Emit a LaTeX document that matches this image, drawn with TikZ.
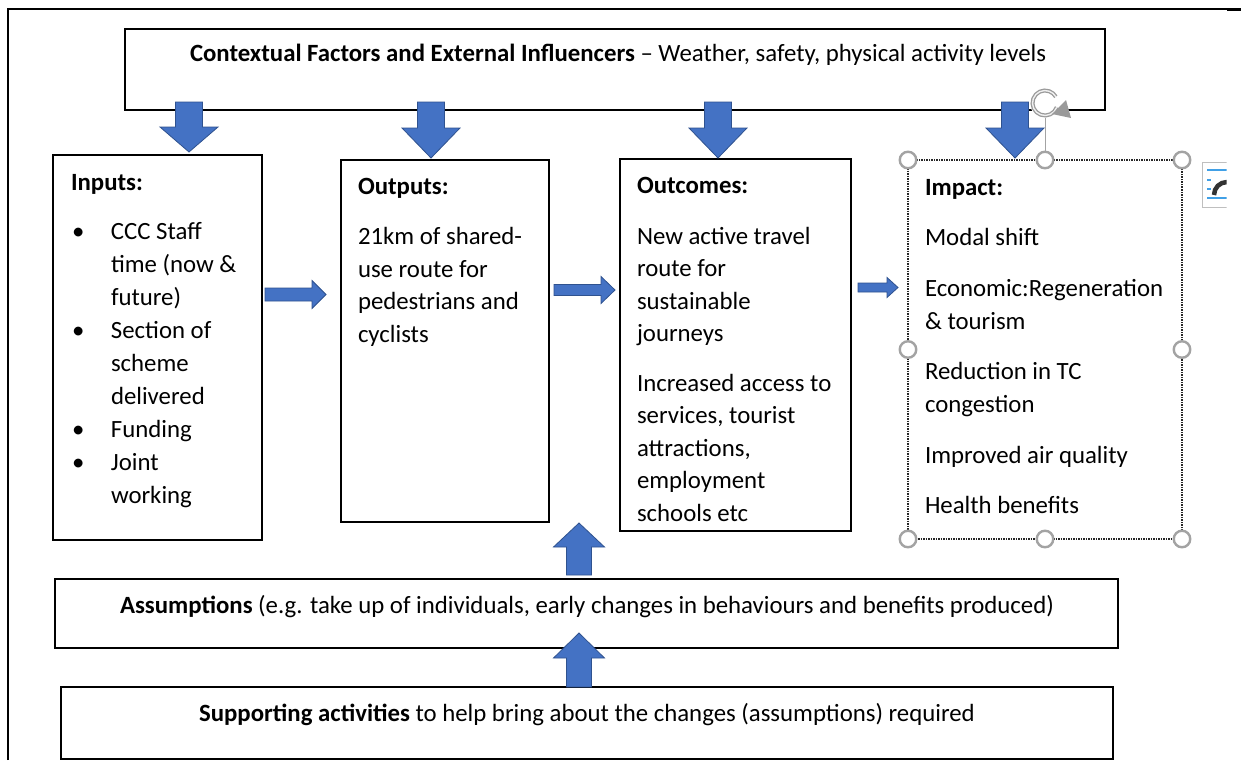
\documentclass[tikz,border=0pt]{standalone}
\usepackage{fontspec}
\setmainfont{Carlito}
\usetikzlibrary{arrows.meta}
\definecolor{arrfill}{HTML}{4472C4}
\definecolor{arrline}{HTML}{2F528F}
\definecolor{handlegray}{HTML}{A3A3A3}
\definecolor{rotgray}{HTML}{9A9A9A}
\definecolor{iconblue}{HTML}{41A0E6}
\newcommand\lmbul{\makebox[40pt][l]{\hspace{1pt}\textbullet}}
\newcommand\lmind{\hspace*{40pt}}
% vertical block arrow: y base, y head base, y tip, x centre, shaft half width, head half width
\newcommand\lmvarrow[6]{\filldraw[blockarrow] (#4-#5,#1) -- (#4-#5,#2) -- (#4-#6,#2) -- (#4,#3) -- (#4+#6,#2) -- (#4+#5,#2) -- (#4+#5,#1) -- cycle;}
% horizontal block arrow: x base, x head base, x tip, y centre, shaft half height, head half height
\newcommand\lmharrow[6]{\filldraw[blockarrow] (#1,#4-#5) -- (#2,#4-#5) -- (#2,#4-#6) -- (#3,#4) -- (#2,#4+#6) -- (#2,#4+#5) -- (#1,#4+#5) -- cycle;}
\begin{document}
\begin{tikzpicture}[x=1pt, y=-1pt,
  box/.style={draw=black, line width=1.5pt, inner sep=0pt, outer sep=0pt, anchor=north west},
  txt/.style={inner sep=0pt, outer sep=0pt, anchor=north west, align=left, font=\fontsize{24.8}{33}\selectfont},
  txtb/.style={txt, font=\fontsize{24.8}{32.5}\selectfont},
  ctxt/.style={inner sep=0pt, outer sep=0pt, anchor=base, font=\fontsize{24.8}{33}\selectfont},
  blockarrow/.style={fill=arrfill, draw=arrline, line width=0.8pt},
  handle/.style={circle, draw=handlegray, fill=white, line width=2.4pt, minimum size=16.5pt, inner sep=0pt}
]
\useasboundingbox (0,0) rectangle (1241,760);
\fill[white] (0,0) rectangle (1241,760);
% outer frame
\draw[line width=1.5pt] (8,760) -- (8,9) -- (1241,9);
\draw[line width=3pt] (1227,10) -- (1241,10);
% boxes
\node[box, minimum width=980pt, minimum height=81pt] (ctx) at (125,29) {};
\node[box, minimum width=209pt, minimum height=385pt] (inputs) at (53,155) {};
\node[box, minimum width=208pt, minimum height=362pt] (outputs) at (341,160) {};
\node[box, minimum width=231pt, minimum height=372pt] (outcomes) at (620,159) {};
\node[box, draw=black!85, densely dotted, line width=1.2pt, minimum width=274pt, minimum height=379pt] (impact) at (908,160) {};
\node[box, minimum width=1063pt, minimum height=69pt] (assump) at (55,579) {};
\node[box, minimum width=1052pt, minimum height=72pt] (support) at (61,687) {};
% texts
\node[ctxt] (ctxT) at (618,62) {\textbf{Contextual Factors and External Influencers} – Weather, safety, physical activity levels};
\node[txt] (inputsT) at (71,166.9) {\strut\textbf{Inputs:}\\[16pt]
\lmbul CCC Staff\\ \lmind time (now \&\\ \lmind future)\\ \lmbul Section of\\ \lmind scheme\\ \lmind delivered\\ \lmbul Funding\\ \lmbul Joint\\ \lmind working};
\node[txtb] (outputsT) at (358,171.4) {\strut\textbf{Outputs:}\\[18pt] 21km of shared-\\ use route for\\ pedestrians and\\ cyclists};
\node[txtb] (outcomesT) at (637,171.2) {\strut\textbf{Outcomes:}\\[18pt] New active travel\\ route for\\ sustainable\\ journeys\\[17pt] Increased access to\\ services, tourist\\ attractions,\\ employment\\ schools etc};
\node[txt] (impactT) at (925,171.9) {\strut\textbf{Impact:}\\[17pt] Modal shift\\[18pt] Economic:Regeneration\\ \& tourism\\[17pt] Reduction in TC\\ congestion\\[18pt] Improved air quality\\[17pt] Health benefits};
\node[ctxt] (assumpT) at (587,613) {\textbf{Assumptions} (e.g. take up of individuals, early changes in behaviours and benefits produced)};
\node[ctxt] (supportT) at (587,721) {\textbf{Supporting activities} to help bring about the changes (assumptions) required};
% block arrows
\lmvarrow{102}{127}{152}{189}{13.5}{29}
\lmvarrow{102}{128}{158}{431}{13.5}{29}
\lmvarrow{102}{128}{158}{718}{13.5}{29}
\lmvarrow{102}{128}{158}{1015}{13.5}{29}
\lmharrow{265}{312}{326}{294.5}{6.5}{14}
\lmharrow{554}{601}{615}{290}{5.5}{13.5}
\lmharrow{858}{887}{898}{287.5}{4.5}{10}
\lmvarrow{575}{547}{523}{579}{12.5}{25.5}
\lmvarrow{687}{658}{633}{579}{12.5}{25.5}
% selection handles of the impact box
\coordinate (rot) at (1045,103);
\draw[handlegray, line width=0.8pt] (rot) -- (1045,160);
\foreach \hx/\hy [count=\i] in {908/160,1045/160,1182/160,908/349.5,1182/349.5,908/539,1045/539,1182/539}
  \node[handle] (h\i) at (\hx,\hy) {};
\fill[white] (rot) circle (15);
\draw[rotgray, line width=4pt] (rot) ++(20:12.5) arc[start angle=20, end angle=330, radius=12.5];
\draw[white!85!rotgray, line width=1.4pt] (rot) ++(20:12.5) arc[start angle=20, end angle=330, radius=12.5];
\fill[rotgray] (1052,114) -- (1066,100) -- (1071,118) -- cycle;
% layout options icon
\begin{scope}
\clip (1195,155) rectangle (1226.5,215);
\draw[draw=black!25, fill=white, line width=1pt] (1202,162) rectangle (1240,207);
\draw[iconblue, line width=1.6pt] (1207,170) -- (1232,170) (1207,198) -- (1232,198) (1207,180) -- (1211,180) (1207,189) -- (1211,189);
\draw[black!80, line width=4.5pt] (1214,195) arc[start angle=180, end angle=270, radius=13];
\end{scope}
\end{tikzpicture}
\end{document}
